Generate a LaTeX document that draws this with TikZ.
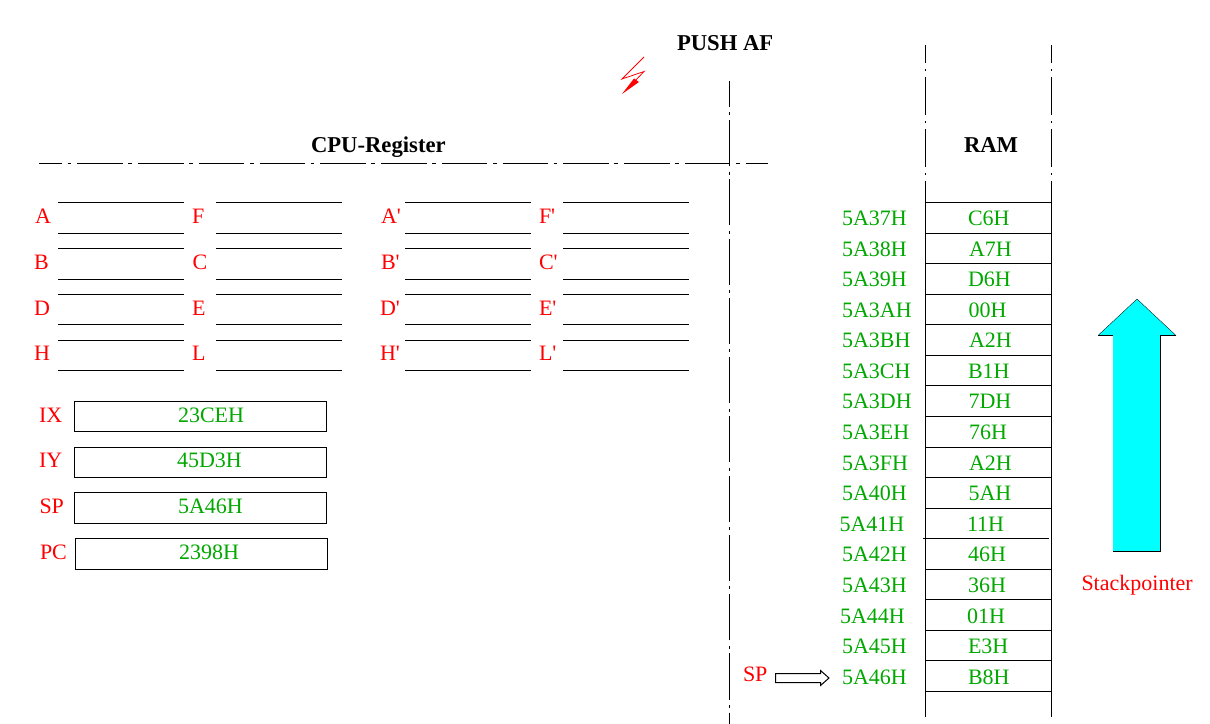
\documentclass[tikz,border=0pt]{standalone}
\usepackage{fontspec}
\setmainfont{Liberation Serif}
\newfontfamily\regfont{Liberation Serif}
\definecolor{addrgreen}{RGB}{0,168,0}
\definecolor{regred}{RGB}{255,0,0}
\definecolor{stackcyan}{RGB}{0,255,255}
\begin{document}
\begin{tikzpicture}[x=0.75pt,y=-0.75pt,
  every node/.style={inner sep=0pt,outer sep=0pt,anchor=base west},
  ln/.style={line width=0.8pt,black},
  centerH/.style={ln,dash pattern=on 34.1pt off 4.1pt on 2.8pt off 4.56pt,dash phase=16.7pt},
  centerV/.style={ln,dash pattern=on 34.6pt off 4.1pt on 2.25pt off 3.5pt,dash phase=15.2pt},
  centerR/.style={ln,dash pattern=on 28.9pt off 4.5pt on 1.5pt off 4.1pt,dash phase=15.1pt},
  title/.style={font=\fontsize{17}{17}\selectfont\bfseries,text=black},
  reg/.style={font=\regfont\fontsize{16.5}{17}\selectfont,text=regred},
  val/.style={font=\fontsize{16.5}{17}\selectfont,text=addrgreen},
  box/.style={draw=black,line width=0.8pt,rectangle,anchor=north west,minimum width=189pt}]
\useasboundingbox (0,0) rectangle (1210,724);
\fill[white] (0,0) rectangle (1210,724);

% titles
\node[title] (push) at (677,51) {PUSH AF};
\node[title] (cpu) at (311,152) {CPU-Register};
\node[title] (ram) at (964,152) {RAM};

% lightning
\draw[regred,line width=0.6pt] (644,57) -- (622,79) -- (644,71.5) -- (634,82);
\fill[regred] (622,94) -- (639,82) -- (634,78.5) -- cycle;

% centre lines
\draw[centerH] (39,163.5) -- (768,163.5);
\draw[centerV] (729.5,81) -- (729.5,724);
\draw[centerR] (925.5,45) -- (925.5,202.5);
\draw[centerR] (1051.5,45) -- (1051.5,202.5);
\draw[ln] (925.5,182) -- (925.5,717);
\draw[ln] (1051.5,182) -- (1051.5,717);

% register lines
\foreach \ya/\yb in {202.5/233.5,248.5/279.5,294.5/324.5,340.5/370.5}{
  \foreach \xa in {58,216,405,563}{
    \draw[ln] (\xa,\ya) -- ++(126,0);
    \draw[ln] (\xa,\yb) -- ++(126,0);
  }
}
% register labels
\foreach \n/\t/\x/\y in {
  rA/A/35/223,rF/F/192/223,rB/B/34/269,rC/C/192.5/269,
  rD/D/34/315,rE/E/192/315,rH/H/34/360,rL/L/192/360,
  pA/A'/381/223,pF/F'/539/223,pB/B'/381/269,pC/C'/539/269,
  pD/D'/380/315,pE/E'/539/315,pH/H'/380/360,pL/L'/539/360}{
  \node[reg] (\n) at (\x,\y) {\t};
}
% 16-bit registers
\node[reg] (lIX) at (39,422) {IX};
\node[reg] (lIY) at (39,467) {IY};
\node[reg] (lSP) at (39.5,513) {SP};
\node[reg] (lPC) at (40,559) {PC};
\node[box,minimum height=22.5pt] (bIX) at (74.5,401.5) {};
\node[box,minimum height=22.5pt] (bIY) at (74.5,447.5) {};
\node[box,minimum height=23.25pt] (bSP) at (74.5,492.5) {};
\node[box,minimum height=23.25pt] (bPC) at (75.5,538.5) {};
\node[val] (vIX) at (178,422) {23CEH};
\node[val] (vIY) at (177,467) {45D3H};
\node[val] (vSP) at (178,513) {5A46H};
\node[val] (vPC) at (179,559) {2398H};

% RAM rows
\foreach \y in {202.5,233.5,263.5,294.5,324.5,355.5,385.5,416.5,447.5,477.5,508.5,569.5,599.5,630.5,660.5,691.5}{
  \draw[ln] (925.5,\y) -- (1051.5,\y);
}
\draw[ln] (923,538.5) -- (1049,538.5);

\foreach \i/\a/\xa/\v/\xv/\y in {
  0/5A37H/842/C6H/968/225,
  1/5A38H/842/A7H/969/256,
  2/5A39H/842/D6H/968/286.5,
  3/5A3AH/842/00H/968.5/317,
  4/5A3BH/842/A2H/969/347,
  5/5A3CH/842/B1H/968/378,
  6/5A3DH/842/7DH/968.5/408.5,
  7/5A3EH/842/76H/969/439,
  8/5A3FH/842/A2H/969/470,
  9/5A40H/842/5AH/968.5/500,
  10/5A41H/839.5/11H/967/531,
  11/5A42H/842/46H/968/561,
  12/5A43H/842/36H/968/592,
  13/5A44H/840/01H/967/623,
  14/5A45H/842/E3H/968/653,
  15/5A46H/842/B8H/968/684}{
  \node[val] (addr\i) at (\xa,\y) {\a};
  \node[val] (cell\i) at (\xv,\y) {\v};
}

% SP pointer
\node[reg] (spl) at (743,681) {SP};
\draw[line width=0.75pt,fill=white] (775.5,673.5) -- (820.5,673.5) -- (820.5,670.5) -- (829,678) -- (820.5,685.5) -- (820.5,682.5) -- (775.5,682.5) -- cycle;

% stack direction arrow
\fill[stackcyan] (1137,299) -- (1176,335.5) -- (1160.5,335.5) -- (1160.5,551.5) -- (1113,551.5) -- (1113,335.5) -- (1098,335.5) -- cycle;
\draw[line width=0.25pt] (1098,335.5) -- (1137,299) -- (1176,335.5);
\draw[ln] (1098,335.5) -- (1113,335.5);
\draw[ln] (1176,335.5) -- (1160.5,335.5) -- (1160.5,551.5) -- (1113,551.5);
\node[reg] (stack) at (1081.5,590.5) {Stackpointer};
\end{tikzpicture}
\end{document}
